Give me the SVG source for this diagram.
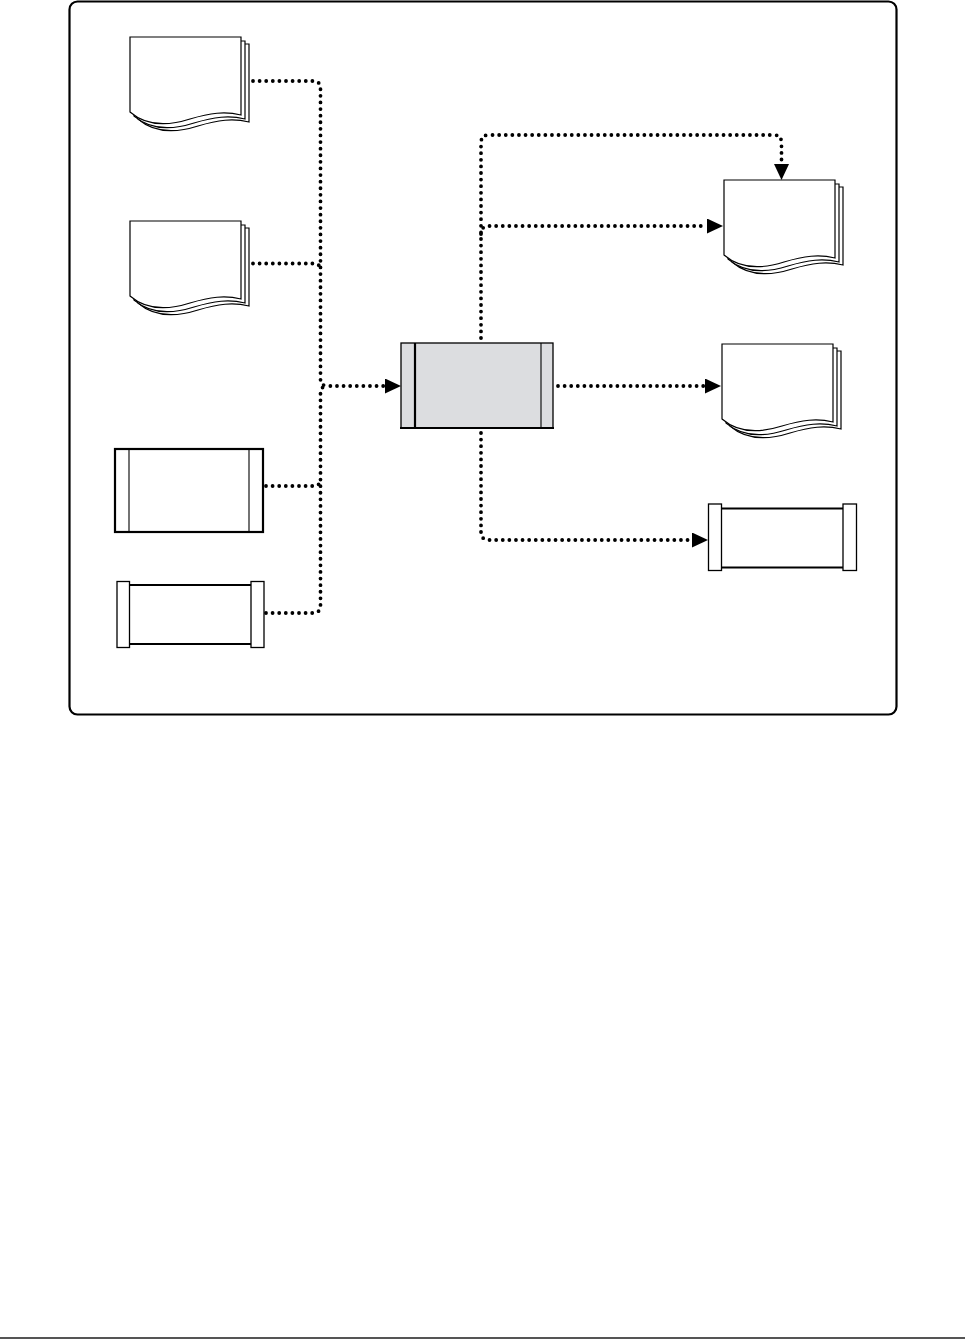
<svg xmlns="http://www.w3.org/2000/svg" width="965" height="1339" viewBox="0 0 965 1339">
<defs>
<style>
.pg{fill:#fff;stroke:#000;stroke-width:1.2;stroke-linejoin:miter}
.dot{fill:none;stroke:#000;stroke-width:3.8;stroke-linecap:round;stroke-dasharray:0 6.6}
.box{fill:#fff;stroke:#000;stroke-width:1.3}
.thick{stroke:#000;stroke-width:2.2}
.thin{stroke:#000;stroke-width:1.1}
</style>
<marker id="arr" markerUnits="userSpaceOnUse" markerWidth="16" markerHeight="15" refX="0" refY="7.5" orient="auto" viewBox="0 0 16 15">
<path d="M0,0 L16,7.5 L0,15 Z" fill="#000"/>
</marker>
<g id="docshape">
<path class="pg" d="M8,7 H119 V85 C103,81 88,83 68,89 C43,97 23,95 8,82 Z"/>
<path class="pg" d="M4,4 H115 V82 C99,78 84,80 64,86 C39,94 19,92 4,79 Z"/>
<path class="pg" d="M0,0 H111 V78 C95,74 80,76 60,82 C35,90 15,88 0,75 Z"/>
</g>
</defs>
<rect x="0" y="0" width="965" height="1339" fill="#fff"/>
<rect id="frame" x="69.5" y="1.5" width="827" height="713" rx="8" fill="none" stroke="#000" stroke-width="2.2"/>
<line x1="0" y1="1338" x2="965" y2="1338" stroke="#555" stroke-width="2"/>

<g id="doc1" transform="translate(130,37)"><use href="#docshape"/></g>
<g id="doc2" transform="translate(130,221)"><use href="#docshape"/></g>
<g id="doc3" transform="translate(724,180)"><use href="#docshape"/></g>
<g id="doc4" transform="translate(722,344)"><use href="#docshape"/></g>

<g id="rect3">
<rect x="115" y="449" width="148" height="83" fill="#fff" stroke="#000" stroke-width="2.2"/>
<line class="thin" x1="129" y1="449" x2="129" y2="532"/>
<line class="thin" x1="249" y1="449" x2="249" y2="532"/>
</g>

<g id="rect4">
<line class="thick" x1="129" y1="585" x2="251" y2="585"/>
<line class="thick" x1="129" y1="644" x2="251" y2="644"/>
<rect class="box" x="117" y="581.5" width="12.5" height="66"/>
<rect class="box" x="251" y="581.5" width="13" height="66"/>
</g>

<g id="center">
<rect x="401" y="343" width="152" height="85" fill="#dcdde0" stroke="#000" stroke-width="1.3"/>
<line class="thick" x1="415" y1="343" x2="415" y2="428"/>
<line class="thin" x1="541" y1="343" x2="541" y2="428"/>
<line class="thick" x1="400" y1="428" x2="554" y2="428"/>
</g>

<g id="rect5">
<line class="thick" x1="721" y1="508.5" x2="843" y2="508.5"/>
<line class="thick" x1="721" y1="567.5" x2="843" y2="567.5"/>
<rect class="box" x="708.5" y="504" width="13" height="66.5"/>
<rect class="box" x="843" y="504" width="13.5" height="66.5"/>
</g>

<g id="connectors">
<path class="dot" d="M253,81 H313 Q320.5,81 320.5,88.5 V379 Q320.5,386 328,386 H385" marker-end="url(#arr)"/>
<path class="dot" d="M253,263.5 H313 Q320.5,263.5 320.5,270"/>
<path class="dot" d="M266,486 H313 Q320.5,486 320.5,479"/>
<path class="dot" d="M266,613 H313 Q320.5,613 320.5,605.5 V393 Q320.5,386 328,386"/>
<path class="dot" d="M481,338 V143 Q481,135 489,135 H774 Q781.5,135 781.5,143 V164" marker-end="url(#arr)"/>
<path class="dot" d="M481,234 Q481,226 489,226 H707" marker-end="url(#arr)"/>
<path class="dot" d="M558,386 H705" marker-end="url(#arr)"/>
<path class="dot" d="M481,433 V532 Q481,540 489,540 H692" marker-end="url(#arr)"/>
</g>
</svg>
